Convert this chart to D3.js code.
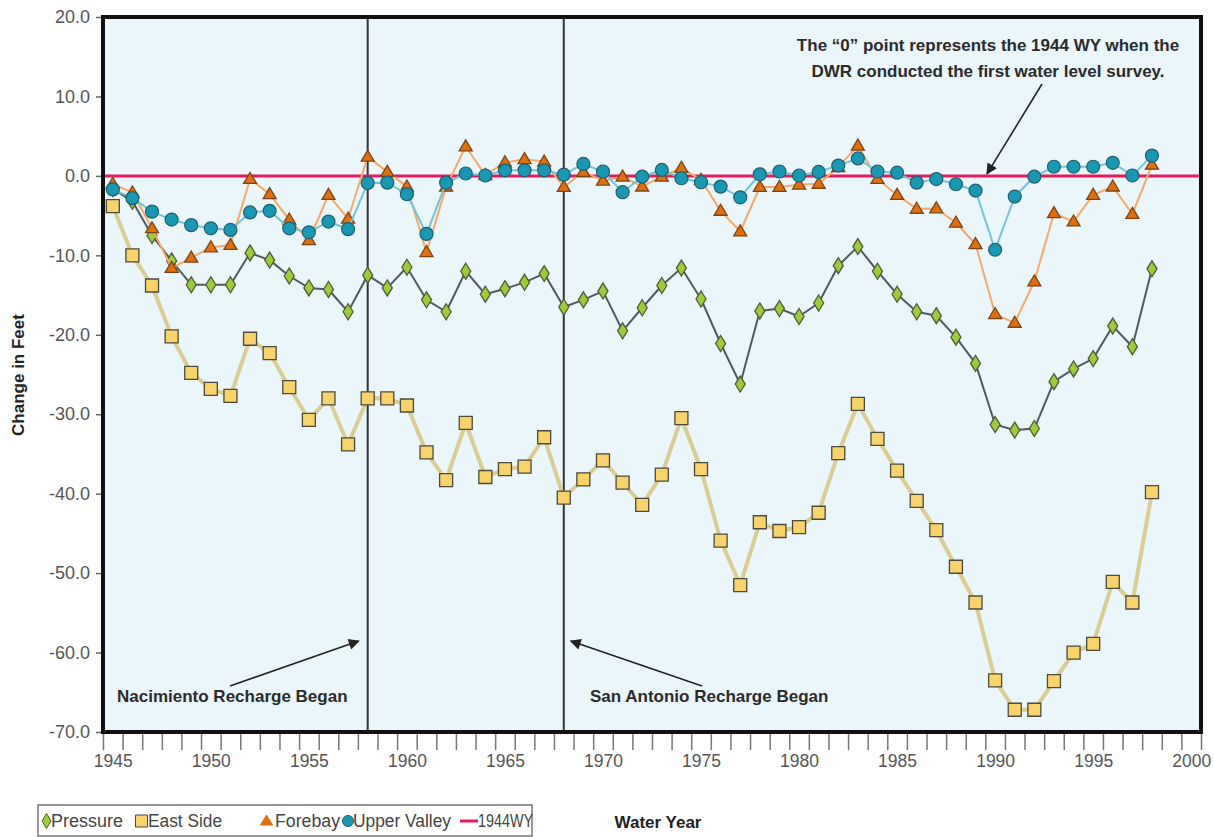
<!DOCTYPE html>
<html>
<head>
<meta charset="utf-8">
<script src="https://cdn.jsdelivr.net/npm/d3@7"></script>
<style>
  html, body { margin: 0; padding: 0; background: #ffffff; }
  svg { display: block; font-family: "Liberation Sans", Arial, sans-serif; }
</style>
</head>
<body>
<svg id="chart" width="1214" height="837"></svg>
<script>
// ---------------- DATA ----------------
const years = d3.range(1945, 1999);

const pressure = [-1.6, -3.2, -7.5, -10.7, -13.7, -13.7, -13.7, -9.7, -10.6, -12.6,
  -14.1, -14.3, -17.1, -12.5, -14.1, -11.5, -15.6, -17.1, -12.0, -14.9,
  -14.2, -13.4, -12.3, -16.5, -15.6, -14.5, -19.5, -16.6, -13.8, -11.6,
  -15.5, -21.1, -26.2, -17.0, -16.7, -17.7, -16.0, -11.3, -8.9, -12.0,
  -14.9, -17.1, -17.6, -20.3, -23.6, -31.3, -32.0, -31.8, -25.9, -24.3,
  -23.0, -18.9, -21.5, -11.7];

const eastSide = [-3.8, -10.0, -13.8, -20.2, -24.8, -26.8, -27.7, -20.5, -22.3, -26.6,
  -30.7, -28.0, -33.8, -28.0, -28.0, -28.9, -34.8, -38.3, -31.1, -37.9,
  -36.9, -36.6, -32.9, -40.5, -38.2, -35.8, -38.6, -41.4, -37.6, -30.5,
  -36.9, -45.9, -51.5, -43.6, -44.7, -44.2, -42.4, -34.9, -28.7, -33.1,
  -37.1, -40.9, -44.6, -49.2, -53.7, -63.5, -67.2, -67.2, -63.6, -60.0,
  -58.9, -51.1, -53.7, -39.8];

const forebay = [-1.0, -2.1, -6.6, -11.6, -10.3, -9.0, -8.7, -0.4, -2.3, -5.5,
  -8.1, -2.4, -5.4, 2.4, 0.5, -1.35, -9.6, -1.35, 3.7, 0.1,
  1.7, 2.1, 1.8, -1.4, 0.5, -0.6, -0.1, -1.35, -0.1, 1.0,
  -0.5, -4.4, -7.0, -1.4, -1.4, -1.1, -1.0, 1.1, 3.8, -0.4,
  -2.4, -4.15, -4.1, -5.9, -8.6, -17.4, -18.5, -13.3, -4.7, -5.75,
  -2.4, -1.35, -4.8, 1.4];

const upperValley = [-1.7, -2.8, -4.5, -5.5, -6.2, -6.6, -6.8, -4.6, -4.4, -6.6,
  -7.1, -5.75, -6.7, -0.9, -0.85, -2.3, -7.3, -0.85, 0.3, 0.05,
  0.7, 0.7, 0.7, 0.15, 1.5, 0.55, -2.05, -0.1, 0.75, -0.3,
  -0.8, -1.35, -2.7, 0.2, 0.55, 0.05, 0.5, 1.3, 2.2, 0.55,
  0.4, -0.85, -0.4, -1.05, -1.85, -9.3, -2.6, -0.1, 1.15, 1.15,
  1.15, 1.65, 0.05, 2.55];

const baselineYears = [1944.5, 2000.5];   // 1944WY reference line
const baselineValues = [0, 0];

const yTicks = [20, 10, 0, -10, -20, -30, -40, -50, -60, -70];
const xLabelYears = [1945, 1950, 1955, 1960, 1965, 1970, 1975, 1980, 1985, 1990, 1995, 2000];
const xTickYears = d3.range(1944.5, 2001, 1);
const rechargeYears = [1958, 1968];
const rechargeLabels = ["Nacimiento Recharge Began", "San Antonio Recharge Began"];
const noteLines = ["The \u201C0\u201D point represents the 1944 WY when the",
                   "DWR conducted the first water level survey."];
const legendNames = ["Pressure", "East Side", "Forebay", "Upper Valley", "1944WY"];

// ---------------- LAYOUT ----------------
const svg = d3.select("#chart");
const L = 103, R = 1201, T = 17, B = 732;

const x = d3.scaleLinear().domain([1944.5, 2000.5]).range([L, R]);
const y = d3.scaleLinear().domain([-70, 20]).range([B, T]);

const C = {
  pressure: { line: "#4f5b63", fill: "#9ccb3b", stroke: "#4f5b3a", lw: 2 },
  east:     { line: "#d9cd95", fill: "#f8d26a", stroke: "#4d4a3c", lw: 4 },
  forebay:  { line: "#f5a96a", fill: "#e0700f", stroke: "#7a4418", lw: 2 },
  upper:    { line: "#72c4da", fill: "#1a98b3", stroke: "#1f5f6e", lw: 2 },
  wy:       { line: "#e8195e" }
};

// marker paths
const diamond = (w, h) => `M0,${-h/2}L${w/2},0L0,${h/2}L${-w/2},0Z`;
const square = s => `M${-s/2},${-s/2}h${s}v${s}h${-s}Z`;
const triangle = (w, h) => `M0,${-h*0.6}L${w/2},${h*0.4}L${-w/2},${h*0.4}Z`;

const defs = svg.append("defs");
defs.append("marker").attr("id", "ah").attr("viewBox", "0 0 10 10")
  .attr("refX", 9).attr("refY", 5)
  .attr("orient", "auto").attr("markerUnits", "userSpaceOnUse")
  .attr("markerWidth", 14).attr("markerHeight", 11)
  .append("path").attr("d", "M0,0L10,5L0,10Z").attr("fill", "#222");

// plot background
svg.append("rect").attr("x", L).attr("y", T).attr("width", R - L).attr("height", B - T)
  .attr("fill", "#eaf6fa");

// recharge vertical lines
svg.selectAll(".vline").data(rechargeYears).join("line")
  .attr("x1", d => x(d)).attr("x2", d => x(d))
  .attr("y1", T).attr("y2", B)
  .attr("stroke", "#333").attr("stroke-width", 2);

// 1944WY baseline
svg.append("path")
  .datum(baselineYears.map((yr, i) => [yr, baselineValues[i]]))
  .attr("d", d3.line().x(d => x(d[0])).y(d => y(d[1])))
  .attr("stroke", C.wy.line).attr("stroke-width", 3).attr("fill", "none");

function drawSeries(values, col, shape) {
  const pts = years.map((yr, i) => [yr, values[i]]);
  svg.append("path").datum(pts)
    .attr("d", d3.line().x(d => x(d[0])).y(d => y(d[1])))
    .attr("fill", "none").attr("stroke", col.line).attr("stroke-width", col.lw)
    .attr("stroke-linejoin", "round");
  svg.append("g").selectAll("path").data(pts).join("path")
    .attr("transform", d => `translate(${x(d[0])},${y(d[1])})`)
    .attr("d", shape)
    .attr("fill", col.fill).attr("stroke", col.stroke).attr("stroke-width", 1.3);
}
drawSeries(eastSide, C.east, square(13));
drawSeries(pressure, C.pressure, diamond(10, 16));
drawSeries(forebay, C.forebay, triangle(13, 11));
(function () {
  const pts = years.map((yr, i) => [yr, upperValley[i]]);
  svg.append("path").datum(pts)
    .attr("d", d3.line().x(d => x(d[0])).y(d => y(d[1])))
    .attr("fill", "none").attr("stroke", C.upper.line).attr("stroke-width", C.upper.lw);
  svg.append("g").selectAll("circle").data(pts).join("circle")
    .attr("cx", d => x(d[0])).attr("cy", d => y(d[1])).attr("r", 6.5)
    .attr("fill", C.upper.fill).attr("stroke", C.upper.stroke).attr("stroke-width", 1.2);
})();

// plot border
svg.append("rect").attr("x", L).attr("y", T).attr("width", R - L).attr("height", B - T)
  .attr("fill", "none").attr("stroke", "#111").attr("stroke-width", 4);

// axes
const yAxis = svg.append("g").attr("transform", `translate(${L - 2},0)`)
  .call(d3.axisLeft(y).tickValues(yTicks).tickSize(5).tickPadding(6).tickFormat(d => d.toFixed(1)));
yAxis.select(".domain").remove();
yAxis.selectAll("line").attr("stroke", "#666").attr("stroke-width", 1.5);
yAxis.selectAll("text").attr("font-size", 18).attr("fill", "#555")
  .attr("font-family", "'Liberation Sans', Arial, sans-serif");

const xTickAxis = svg.append("g").attr("transform", `translate(0,${B + 2})`)
  .call(d3.axisBottom(x).tickValues(xTickYears).tickSize(16).tickFormat(""));
xTickAxis.select(".domain").remove();
xTickAxis.selectAll("line").attr("stroke", "#777").attr("stroke-width", 1.5);

const xLabelAxis = svg.append("g").attr("transform", `translate(0,${B + 17})`)
  .call(d3.axisBottom(x).tickValues(xLabelYears).tickSize(0).tickPadding(6).tickFormat(d3.format("d")));
xLabelAxis.select(".domain").remove();
xLabelAxis.selectAll("text").attr("font-size", 17.5).attr("fill", "#555")
  .attr("font-family", "'Liberation Sans', Arial, sans-serif");

// axis titles
svg.append("text").attr("transform", "translate(24,375) rotate(-90)")
  .attr("text-anchor", "middle").attr("font-weight", "bold").attr("font-size", 17)
  .attr("fill", "#222").text("Change in Feet");
svg.append("text").attr("x", 658).attr("y", 828)
  .attr("text-anchor", "middle").attr("font-weight", "bold").attr("font-size", 17)
  .attr("fill", "#222").text("Water Year");

// annotations
svg.append("text").attr("x", 117).attr("y", 702).attr("font-weight", "bold")
  .attr("font-size", 17).attr("fill", "#2b2b2b").text(rechargeLabels[0]);
svg.append("text").attr("x", 590).attr("y", 702).attr("font-weight", "bold")
  .attr("font-size", 17).attr("fill", "#2b2b2b").text(rechargeLabels[1]);
svg.append("line").attr("x1", 230).attr("y1", 686).attr("x2", x(rechargeYears[0]) - 9).attr("y2", 641)
  .attr("stroke", "#222").attr("stroke-width", 1.6).attr("marker-end", "url(#ah)");
svg.append("line").attr("x1", 702).attr("y1", 686).attr("x2", x(rechargeYears[1]) + 7).attr("y2", 641)
  .attr("stroke", "#222").attr("stroke-width", 1.6).attr("marker-end", "url(#ah)");

svg.selectAll(".note").data(noteLines).join("text")
  .attr("x", 988).attr("y", (d, i) => 51 + i * 26)
  .attr("text-anchor", "middle").attr("font-weight", "bold").attr("font-size", 17)
  .attr("fill", "#2b2b2b").text(d => d);
svg.append("line").attr("x1", 1042).attr("y1", 84).attr("x2", 987).attr("y2", y(0) - 2)
  .attr("stroke", "#222").attr("stroke-width", 1.6).attr("marker-end", "url(#ah)");

// legend
const lg = svg.append("g");
lg.append("rect").attr("x", 38).attr("y", 805).attr("width", 494).attr("height", 31)
  .attr("fill", "#fff").attr("stroke", "#777").attr("stroke-width", 1.5);
const ly = 821;
const legendItems = [
  { name: legendNames[0], mx: 46.5, tx: 51, tw: 72, draw: g => g.append("path").attr("d", diamond(9, 15)).attr("fill", C.pressure.fill).attr("stroke", C.pressure.stroke) },
  { name: legendNames[1], mx: 141.5, tx: 148, tw: 74, draw: g => g.append("path").attr("d", square(12)).attr("fill", C.east.fill).attr("stroke", C.east.stroke) },
  { name: legendNames[2], mx: 266.5, tx: 275, tw: 65, draw: g => g.append("path").attr("d", triangle(12, 10)).attr("fill", C.forebay.fill).attr("stroke", C.forebay.fill) },
  { name: legendNames[3], mx: 348, tx: 353, tw: 98, draw: g => g.append("circle").attr("r", 5.5).attr("fill", C.upper.fill).attr("stroke", C.upper.stroke) },
  { name: legendNames[4], mx: 469, tx: 478, tw: 55, draw: g => g.append("line").attr("x1", -9).attr("x2", 9).attr("stroke", C.wy.line).attr("stroke-width", 3) }
];
legendItems.forEach(it => {
  const g = lg.append("g").attr("transform", `translate(${it.mx},${ly})`);
  it.draw(g);
  lg.append("text").attr("x", it.tx).attr("y", ly + 6).attr("font-size", 17.5)
    .attr("textLength", it.tw).attr("lengthAdjust", "spacingAndGlyphs")
    .attr("fill", "#444").text(it.name);
});
</script>
</body>
</html>
